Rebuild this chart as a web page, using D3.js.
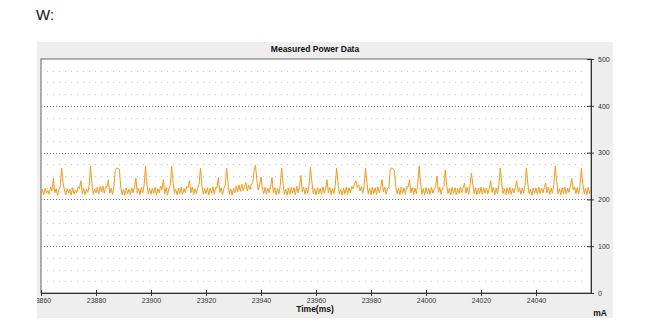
<!DOCTYPE html>
<html>
<head>
<meta charset="utf-8">
<script src="https://cdnjs.cloudflare.com/ajax/libs/d3/7.8.5/d3.min.js"></script>
<style>
body { margin:0; background:#fff; font-family: Arial, "Liberation Sans", sans-serif; }
.tick text { font-family: Arial, "Liberation Sans", sans-serif; }
</style>
</head>
<body>
<div id="power-chart"></div>
<script>
//measured power data, one sample every 0.5 ms
var startTime = 23860;
var sampleStep = 0.5;
var powerValues = [
	212,221,210,224,213,219,211,226,218,245,214,223,209,221,228,267,236,220,210,223,
	213,222,209,225,212,220,214,227,223,240,212,224,210,222,215,229,271,234,211,222,
	214,226,212,228,216,229,213,227,226,242,213,224,211,228,262,267,266,264,226,210,
	221,209,224,212,222,210,225,214,227,245,213,223,210,226,214,231,271,233,212,223,
	211,224,213,226,210,223,214,228,221,242,212,225,209,224,230,271,238,213,222,210,
	224,212,226,211,223,214,228,225,240,214,226,210,223,212,225,233,267,231,211,223,
	212,225,210,224,213,227,211,226,224,247,215,224,210,223,232,267,236,211,222,209,
	223,214,229,216,231,217,233,219,228,236,218,230,221,232,236,262,273,240,220,231,
	248,222,212,226,211,224,214,226,247,213,225,210,223,212,230,267,234,211,222,209,
	224,211,226,213,225,210,228,214,228,251,216,226,211,224,213,232,268,237,212,223,
	210,225,212,224,211,227,213,224,242,214,226,210,223,212,231,267,235,211,221,209,
	224,212,226,211,225,214,228,222,233,240,225,231,218,227,213,229,267,236,212,224,
	210,226,212,225,211,227,214,224,242,216,226,211,224,226,263,267,265,262,228,212,
	224,210,226,212,225,211,228,226,242,214,225,210,224,212,233,271,238,211,223,210,
	225,212,224,211,226,213,222,227,250,215,226,211,225,228,263,232,212,224,210,226,
	213,225,210,224,212,227,214,224,235,213,226,211,229,256,233,212,225,210,224,212,
	226,211,225,213,224,212,223,240,215,226,210,224,212,231,267,236,212,223,210,225,
	212,226,211,224,214,226,240,216,225,211,224,213,230,267,235,212,222,209,224,213,
	225,211,226,212,224,214,225,235,214,226,211,224,213,232,271,238,212,223,210,225,
	212,226,211,224,215,228,245,220,227,212,225,211,230,267,234,212,224,210,226,213,
	221
];
var timeTicks = [23860,23880,23900,23920,23940,23960,23980,24000,24020,24040];
var powerTicks = [0,100,200,300,400,500];
var minorTicks = [25,50,75,125,150,175,225,250,275,325,350,375,425,450,475];

function plotPower(){
	var panelX = 37, panelY = 42, panelW = 576, panelH = 276;
	var left = 41, top = 59;
	var width = 550;
	var height = 234;

	var svg = d3.select('#power-chart').append("svg")
		.attr("width",660)
		.attr("height",335);

	svg.append("text")
		.attr("x",36)
		.attr("y",20)
		.style("font-size","15px")
		.attr("fill","#111")
		.text("W:");

	svg.append("clipPath")
		.attr("id","panel-clip")
	  .append("rect")
		.attr("x",panelX)
		.attr("y",panelY)
		.attr("width",panelW)
		.attr("height",panelH);

	var panel = svg.append("g")
		.attr("clip-path","url(#panel-clip)");

	panel.append("rect")
		.attr("x",panelX)
		.attr("y",panelY)
		.attr("width",panelW)
		.attr("height",panelH)
		.attr("fill","#eeeeee");

	panel.append("rect")
		.attr("x",left)
		.attr("y",top)
		.attr("width",width)
		.attr("height",height)
		.attr("fill","#fff")
		.attr("stroke","#666")
		.attr("stroke-width",1);

	var timeScale = d3.scaleLinear()
		.domain([23860,24060])
		.range([0,width]);

	var powerScale = d3.scaleLinear()
		.domain([0,500])
		.range([height,0]);

	var plot = panel.append("g")
		.attr("transform","translate("+left+","+top+")");

	//minor grid
	plot.selectAll(".minor")
		.data(minorTicks)
		.enter()
		.append("line")
		.attr("x1",6)
		.attr("x2",width-8)
		.attr("y1",function(d){ return Math.round(powerScale(d))+0.5; })
		.attr("y2",function(d){ return Math.round(powerScale(d))+0.5; })
		.attr("stroke","#c8c8c8")
		.attr("stroke-width",1)
		.attr("stroke-dasharray","1,5");

	//major grid
	plot.selectAll(".major")
		.data([100,200,300,400])
		.enter()
		.append("line")
		.attr("x1",0)
		.attr("x2",width)
		.attr("y1",function(d){ return Math.round(powerScale(d))+0.5; })
		.attr("y2",function(d){ return Math.round(powerScale(d))+0.5; })
		.attr("stroke","#777")
		.attr("stroke-width",1)
		.attr("stroke-dasharray","1,2");

	var lineGenerator = d3.line()
		.x(function(d,i){
			return timeScale(startTime + i*sampleStep);
		})
		.y(function(d){
			return powerScale(d);
		});

	plot.append("path")
		.attr("d",lineGenerator(powerValues))
		.attr("fill","none")
		.attr("stroke","#f29a18")
		.attr("stroke-width",1);

	var xAxis = d3.axisBottom(timeScale)
		.tickValues(timeTicks)
		.tickSize(3)
		.tickSizeOuter(0)
		.tickFormat(d3.format("d"));

	var yAxis = d3.axisRight(powerScale)
		.tickValues(powerTicks)
		.tickSize(3)
		.tickSizeOuter(0);

	var gx = panel.append("g")
		.attr("transform","translate("+left+","+(top+height)+")")
		.call(xAxis);

	var gy = panel.append("g")
		.attr("transform","translate("+(left+width)+","+top+")")
		.call(yAxis);

	//ticks cross the axis line
	gx.selectAll(".tick line").attr("y1",-3).attr("stroke","#333");
	gy.selectAll(".tick line").attr("x1",-4).attr("stroke","#333");
	gx.select(".domain").attr("stroke","#333");
	gy.select(".domain").attr("stroke","#333");
	gx.selectAll(".tick text").attr("y",5).style("font-size","7px").attr("fill","#333");
	gy.selectAll(".tick text").attr("x",7).style("font-size","7px").attr("fill","#333");

	panel.append("text")
		.attr("x",315)
		.attr("y",52)
		.attr("text-anchor","middle")
		.style("font-size","8.5px")
		.style("font-weight","bold")
		.attr("fill","#111")
		.text("Measured Power Data");

	panel.append("text")
		.attr("x",315)
		.attr("y",312)
		.attr("text-anchor","middle")
		.style("font-size","8.5px")
		.style("font-weight","bold")
		.attr("fill","#111")
		.text("Time(ms)");

	panel.append("text")
		.attr("x",607)
		.attr("y",316)
		.attr("text-anchor","end")
		.style("font-size","8.5px")
		.style("font-weight","bold")
		.attr("fill","#111")
		.text("mA");
}

plotPower();
</script>
</body>
</html>
